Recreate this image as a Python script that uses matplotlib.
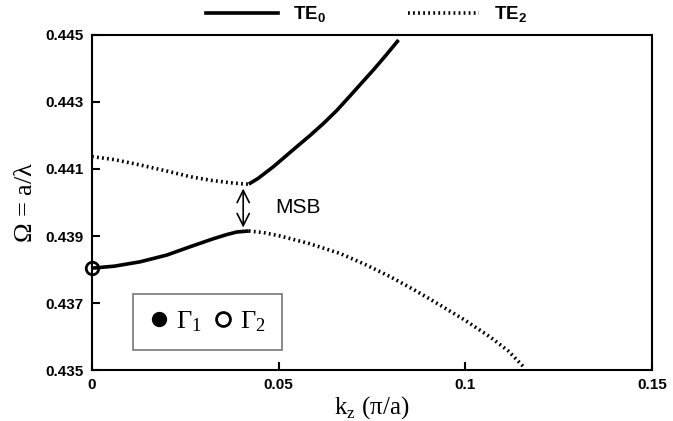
import matplotlib
matplotlib.use('Agg')
import matplotlib.pyplot as plt
from matplotlib.lines import Line2D

# lower band: TE0 (solid) up to anticrossing, then TE2 (dotted)
k_low_te0 = [0.0, 0.006, 0.0129, 0.020, 0.0263, 0.032, 0.0360, 0.0388, 0.042]
w_low_te0 = [0.43804, 0.43810, 0.43823, 0.43843, 0.43868, 0.43890, 0.43904, 0.43912, 0.43915]
k_low_te2 = [0.042, 0.046, 0.0504, 0.058, 0.0664, 0.073, 0.0798, 0.0865, 0.0932, 0.100, 0.1066, 0.1115, 0.116]
w_low_te2 = [0.43915, 0.43910, 0.43900, 0.43878, 0.43848, 0.43816, 0.43779, 0.43738, 0.43694, 0.43648, 0.43599, 0.43557, 0.43505]

# upper band: TE2 (dotted) up to anticrossing, then TE0 (solid)
k_up_te2 = [0.0, 0.006, 0.0129, 0.020, 0.0263, 0.032, 0.037, 0.041, 0.042]
w_up_te2 = [0.44137, 0.44128, 0.44112, 0.44094, 0.44077, 0.44066, 0.44059, 0.44055, 0.44055]
k_up_te0 = [0.042, 0.0445, 0.0486, 0.055, 0.0585, 0.0620, 0.0655, 0.0687, 0.0720, 0.0754, 0.0790, 0.0821]
w_up_te0 = [0.44055, 0.44072, 0.44107, 0.44168, 0.44201, 0.44236, 0.44274, 0.44313, 0.44354, 0.44396, 0.44443, 0.44485]

xticks = [0, 0.05, 0.1, 0.15]
xtick_labels = ['0', '0.05', '0.1', '0.15']
yticks = [0.435, 0.437, 0.439, 0.441, 0.443, 0.445]

plt.rcParams['font.family'] = ['Liberation Sans', 'DejaVu Sans']
serif = ['Liberation Serif', 'DejaVu Serif']
dots = (0, (0.5, 0.9))

fig = plt.figure(figsize=(6.73, 4.21), dpi=100)
ax = fig.add_axes([0.1367, 0.1211, 0.8321, 0.7958])

ax.plot(k_low_te0, w_low_te0, color='black', lw=2.6, solid_capstyle='butt', solid_joinstyle='round')
ax.plot(k_low_te2, w_low_te2, color='black', lw=2.6, linestyle=dots)
ax.plot(k_up_te2, w_up_te2, color='black', lw=2.6, linestyle=dots)
ax.plot(k_up_te0, w_up_te0, color='black', lw=2.6, solid_capstyle='butt', solid_joinstyle='round')

# Gamma_2 point at k=0
ax.plot([0], [0.43804], marker='o', markersize=9, markerfacecolor='none',
        markeredgecolor='black', markeredgewidth=2, clip_on=False, zorder=5)

ax.set_xlim(0, 0.15)
ax.set_ylim(0.435, 0.445)
ax.set_xticks(xticks)
ax.set_xticklabels(xtick_labels)
ax.set_yticks(yticks)
ax.set_yticklabels(['%.3f' % v for v in yticks])
ax.tick_params(direction='in', length=6, width=1.5, labelsize=11, pad=6)
for lab in ax.get_xticklabels() + ax.get_yticklabels():
    lab.set_fontweight('bold')
for s in ax.spines.values():
    s.set_linewidth(1.5)

ax.set_xlabel(r'k$_\mathregular{z}$ ($\mathregular{\pi}$/a)', family=serif, fontsize=18, labelpad=1)
ax.set_ylabel(r'$\mathregular{\Omega}$ = a/$\mathregular{\lambda}$', family=serif, fontsize=19, labelpad=6)

# MSB arrow
ax.annotate('', xy=(0.0405, 0.43917), xytext=(0.0405, 0.44050),
            arrowprops=dict(arrowstyle='<->', color='black', lw=1.2, mutation_scale=22))
ax.text(0.049, 0.43985, 'MSB', fontsize=15, va='center', ha='left')

# inner legend for Gamma points
h1 = Line2D([], [], marker='o', color='black', linestyle='none', markersize=10)
h2 = Line2D([], [], marker='o', markerfacecolor='white', markeredgecolor='black',
            markeredgewidth=2, linestyle='none', markersize=10)
leg = ax.legend([h1, h2], [r'$\mathregular{\Gamma_1}$', r'$\mathregular{\Gamma_2}$'],
                loc='lower left', bbox_to_anchor=(0.073, 0.06), borderaxespad=0,
                ncol=2, frameon=True, fancybox=False, edgecolor='#555555',
                handletextpad=0.25, columnspacing=0.4, handlelength=0.8, borderpad=0.6,
                prop={'family': serif, 'size': 19})
leg.get_frame().set_linewidth(1.2)

# top legend for modes
lt = Line2D([], [], color='black', lw=2.6)
lt2 = Line2D([], [], color='black', lw=2.6, linestyle=dots)
fig.legend([lt, lt2], [r'TE$_\mathregular{0}$', r'TE$_\mathregular{2}$'],
           loc='upper center', bbox_to_anchor=(0.545, 1.03), ncol=2, frameon=False,
           handlelength=3.8, columnspacing=4.4, handletextpad=0.8,
           prop={'weight': 'bold', 'size': 13.5})

fig.savefig('out.png', dpi=100)
